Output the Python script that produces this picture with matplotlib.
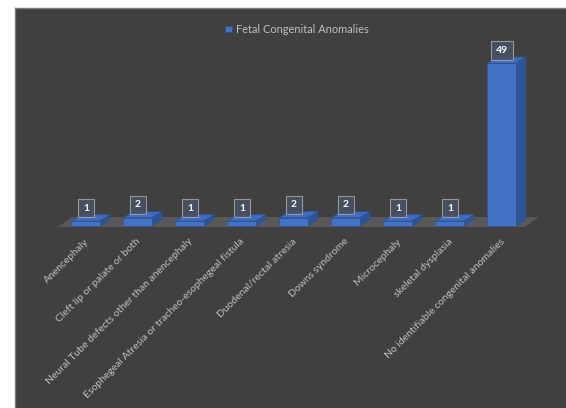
import matplotlib
matplotlib.use("Agg")
import matplotlib.pyplot as plt
from matplotlib.patches import Polygon

categories = [
    "Anencephaly",
    "Cleft lip or palate or both",
    "Neural Tube defects other than anencephaly",
    "Esophegeal Atresia or tracheo-esophegeal fistula",
    "Duodenal/rectal atresia",
    "Downs syndrome",
    "Microcephaly",
    "skeletal dysplasia",
    "No identifiable congenital anomalies",
]
values = [1, 2, 1, 1, 2, 2, 1, 1, 49]
series_name = "Fetal Congenital Anomalies"

BG = "#404040"
FRONT = "#4472C4"
SIDE = "#2F5597"
TOP = "#3F6CC0"
EDGE = "#2F528F"
TXT = "#BFBFBF"
FONT = ["Lato", "DejaVu Sans"]

W, H = 566, 408
fig = plt.figure(figsize=(W / 100, H / 100), dpi=100, facecolor="white")
ax = fig.add_axes([15 / W, 0, (W - 15) / W, (H - 8) / H])
ax.set_facecolor(BG)

# scale: category spacing 52 px, 1 unit value = 3.286 px
px_x = 52.0
px_y = 3.286
x0_pix, y0_pix = 85.5, 226.0
ax.set_xlim((15 - x0_pix) / px_x, (W - x0_pix) / px_x)
ax.set_ylim((y0_pix - H) / px_y, (y0_pix - 8) / px_y)

for s in ["right", "bottom"]:
    ax.spines[s].set_visible(False)
for s in ["left", "top"]:
    ax.spines[s].set_color("#7F7F7F")
    ax.spines[s].set_linewidth(1.0)
ax.set_xticks([])
ax.set_yticks([])

n = len(categories)
xs = list(range(n))
bw = 0.55
dx, dy = 10 / px_x, 6.5 / px_y

# floor
fdx, fdy = 14 / px_x, 10 / px_y
fl, fr = -0.53, n - 1 + 0.45
f0 = -1.0 / px_y
ax.add_patch(Polygon([(fl, f0), (fr, f0), (fr + fdx, f0 + fdy), (fl + fdx, f0 + fdy)],
                     closed=True, facecolor="#595959", edgecolor="none", zorder=1))

slab = 1.5 / px_y  # minimum visual slab thickness
bars = ax.bar(xs, [v + slab for v in values], width=bw, color=FRONT, edgecolor=EDGE,
              linewidth=0.6, zorder=3, label=series_name)
for x, v in zip(xs, values):
    l, r = x - bw / 2, x + bw / 2
    t = v + slab
    ax.add_patch(Polygon([(r, 0), (r + dx, dy), (r + dx, t + dy), (r, t)], closed=True,
                         facecolor=SIDE, edgecolor=EDGE, linewidth=0.6, zorder=2.5))
    ax.add_patch(Polygon([(l, t), (l + dx, t + dy), (r + dx, t + dy), (r, t)], closed=True,
                         facecolor=TOP, edgecolor=EDGE, linewidth=0.6, zorder=2.5))
    ax.text(x + 0.01, t + 13 / px_y, str(v), ha="center", va="center", color="white",
            fontsize=7.5, fontweight="bold", family=FONT, zorder=5,
            bbox=dict(boxstyle="square,pad=0.45", facecolor="#485266", alpha=0.85,
                      edgecolor="#A6A6A6", linewidth=0.8))

# category labels
for x, c in zip(xs, categories):
    ax.text(x + 0.03, -14 / px_y, c, rotation=45, rotation_mode="anchor", ha="right",
            va="center", color=TXT, fontsize=7.5, family=FONT, zorder=5)

leg = ax.legend(loc="upper center", bbox_to_anchor=(0.512, 0.985), frameon=False,
                handlelength=0.6, handleheight=0.6, handletextpad=0.4,
                prop={"family": FONT, "size": 7.9})
for t in leg.get_texts():
    t.set_color(TXT)

fig.savefig("out.png", dpi=100, facecolor="white")
